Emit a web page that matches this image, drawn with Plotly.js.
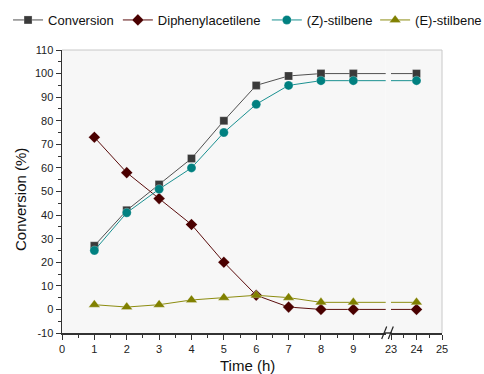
<!DOCTYPE html>
<html><head><meta charset="utf-8">
<script src="https://cdn.plot.ly/plotly-3.0.1.min.js"></script>
<style>html,body{margin:0;padding:0;background:#fff}</style>
</head><body><div id="chart" style="width:484px;height:374px"></div>
<script>
const times = [1, 2, 3, 4, 5, 6, 7, 8, 9, 24];
const conversion = [27, 42, 53, 64, 80, 95, 99, 100, 100, 100];
const diphenyl = [73, 58, 47, 36, 20, 6, 1, 0, 0, 0];
const zStilbene = [25, 41, 51, 60, 75, 87, 95, 97, 97, 97];
const eStilbene = [2, 1, 2, 4, 5, 6, 5, 3, 3, 3];
const seriesNames = ['Conversion', 'Diphenylacetilene', '(Z)-stilbene', '(E)-stilbene'];
const leftTicks = [0, 1, 2, 3, 4, 5, 6, 7, 8, 9];
const leftMinor = [0.5, 1.5, 2.5, 3.5, 4.5, 5.5, 6.5, 7.5, 8.5, 9.5];
const rightTicks = [23, 24, 25];
const rightMinor = [23.5, 24.5];
const yTicks = [-10, 0, 10, 20, 30, 40, 50, 60, 70, 80, 90, 100, 110];
const yMinor = [-5, 5, 15, 25, 35, 45, 55, 65, 75, 85, 95, 105];

const seriesValues = [conversion, diphenyl, zStilbene, eStilbene];
const styles = [
  {line: '#505050', marker: '#3a3a3a', symbol: 'square', size: 8},
  {line: '#5a0c0c', marker: '#4a0000', symbol: 'diamond', size: 9},
  {line: '#1a9090', marker: '#008080', symbol: 'circle', size: 9},
  {line: '#8c8c10', marker: '#808000', symbol: 'triangle-up', size: 10}
];
const legendIds = ['legend', 'legend2', 'legend3', 'legend4'];
const legendX = [-0.142, 0.147, 0.539, 0.824];

const font = 'Arial, "Liberation Sans", sans-serif';
const traces = [];
seriesValues.forEach((vals, i) => {
  const st = styles[i];
  const common = {
    x: times, y: vals, type: 'scatter', mode: 'lines+markers',
    line: {color: st.line, width: 1},
    marker: {color: st.marker, symbol: st.symbol, size: st.size, line: {color: 'rgba(255,255,255,0.5)', width: 0.5}},
    name: seriesNames[i], yaxis: 'y', hoverinfo: 'skip'
  };
  traces.push(Object.assign({}, common, {xaxis: 'x', legend: legendIds[i], showlegend: true}));
  traces.push(Object.assign({}, common, {xaxis: 'x2', showlegend: false}));
});

const W = 380, H = 283, L = 62, B = 333;
const px = v => (v - L) / W;
const py = v => (B - v) / H;
const d1 = px(385.7), d2 = px(391);

const axisCommon = {
  ticks: 'outside', ticklen: 5, tickwidth: 1, tickcolor: '#333',
  showline: true, linecolor: '#333', linewidth: 1.5,
  showgrid: false, zeroline: false,
  tickfont: {family: font, size: 11, color: '#222'},
  fixedrange: true
};

const legends = {};
legendIds.forEach((id, i) => {
  legends[id] = {
    x: legendX[i], xanchor: 'left', y: py(20), yanchor: 'middle',
    orientation: 'h', bgcolor: 'rgba(0,0,0,0)', borderwidth: 0,
    font: {family: font, size: 13, color: '#111'}
  };
});

const layout = Object.assign({
  width: 484, height: 374,
  margin: {l: 62, r: 42, t: 50, b: 41, autoexpand: false},
  paper_bgcolor: '#ffffff', plot_bgcolor: '#f7f7f7',
  xaxis: Object.assign({}, axisCommon, {
    domain: [0, d1], range: [0, 10], tickvals: leftTicks, ticktext: leftTicks.map(String),
    anchor: 'y',
    minor: {tickvals: leftMinor, ticks: 'outside', ticklen: 3, tickwidth: 1, tickcolor: '#333'}
  }),
  xaxis2: Object.assign({}, axisCommon, {
    domain: [d2, 1], range: [23, 25], tickvals: rightTicks, ticktext: rightTicks.map(String),
    anchor: 'y',
    minor: {tickvals: rightMinor, ticks: 'outside', ticklen: 3, tickwidth: 1, tickcolor: '#333'}
  }),
  yaxis: Object.assign({}, axisCommon, {
    range: [-10, 110], tickvals: yTicks, ticktext: yTicks.map(String), anchor: 'x',
    minor: {tickvals: yMinor, ticks: 'outside', ticklen: 3, tickwidth: 1, tickcolor: '#333'}
  }),
  shapes: [
    {type: 'rect', xref: 'paper', yref: 'paper', x0: d1, x1: d2, y0: 0, y1: 1, fillcolor: '#f7f7f7', line: {width: 0}, layer: 'below'},
    {type: 'line', xref: 'paper', yref: 'paper', x0: 0, x1: 1, y0: 1, y1: 1, line: {color: '#c8c8c8', width: 1}},
    {type: 'line', xref: 'paper', yref: 'paper', x0: 1, x1: 1, y0: 0, y1: 1, line: {color: '#c8c8c8', width: 1}},
    {type: 'line', xref: 'paper', yref: 'paper', x0: d1 - 0.002, x1: d2 + 0.002, y0: 0, y1: 0, line: {color: '#333', width: 1.5}},
    {type: 'line', xref: 'paper', yref: 'paper', x0: px(381.7), x1: px(386.7), y0: py(339), y1: py(326.5), line: {color: '#222', width: 1.2}},
    {type: 'line', xref: 'paper', yref: 'paper', x0: px(388.3), x1: px(393.3), y0: py(339), y1: py(326.5), line: {color: '#222', width: 1.2}}
  ],
  annotations: [
    {text: 'Time (h)', xref: 'paper', yref: 'paper', x: px(247), y: py(365), xanchor: 'center', yanchor: 'middle', showarrow: false, font: {family: font, size: 15, color: '#111'}},
    {text: 'Conversion (%)', xref: 'paper', yref: 'paper', x: px(20), y: py(200), xanchor: 'center', yanchor: 'middle', textangle: -90, showarrow: false, font: {family: font, size: 15, color: '#111'}}
  ],
  showlegend: true
}, legends);

Plotly.newPlot('chart', traces, layout, {displayModeBar: false, staticPlot: true});
</script></body></html>
